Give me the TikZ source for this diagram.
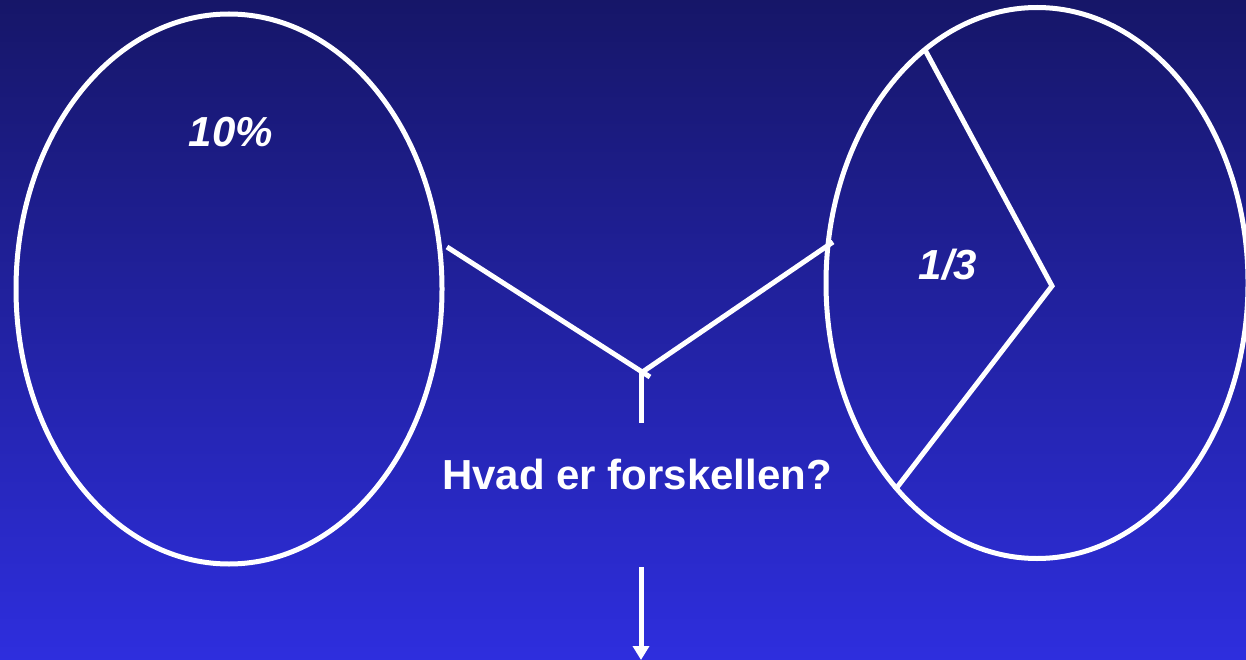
\documentclass[tikz,border=0pt]{standalone}
\usepackage{fontspec}
\setmainfont{Liberation Sans}
\usetikzlibrary{shapes.geometric,arrows.meta}
\definecolor{bgtop}{RGB}{22,22,104}
\definecolor{bgbot}{RGB}{46,46,222}
\tikzset{
  wline/.style={draw=white,line width=5pt},
  oval/.style={ellipse,draw=white,line width=5pt,inner sep=0pt},
  lbl/.style={text=white,font=\fontsize{42}{50}\selectfont\bfseries,inner sep=0pt},
}
\begin{document}
\begin{tikzpicture}[x=1pt,y=-1pt]
\useasboundingbox (0,0) rectangle (1246,660);
\shade[top color=bgtop,bottom color=bgbot] (0,0) rectangle (1246,660);
% ellipses
\node[oval,minimum width=426pt,minimum height=550pt] (L) at (229,289) {};
\node[oval,minimum width=422pt,minimum height=551pt] (R) at (1037,283) {};
% sector in right ellipse
\coordinate (st) at (924,48);
\coordinate (sv) at (1052,286);
\coordinate (sb) at (895,490);
\draw[wline,line join=miter] (st) -- (sv) -- (sb);
% Y connector
\coordinate (la) at (447,247);
\coordinate (lb) at (650,377);
\coordinate (ra) at (833,242);
\coordinate (rb) at (641,373);
\coordinate (va) at (641,372);
\coordinate (vb) at (641,423);
\draw[wline] (la) -- (lb);
\draw[wline] (ra) -- (rb);
\draw[wline] (va) -- (vb);
% texts
\node[lbl,font=\fontsize{42}{50}\selectfont\bfseries\itshape] (p10) at (231,132) {10\%};
\node[lbl,font=\fontsize{42}{50}\selectfont\bfseries\itshape] (p13) at (948,265) {1/3};
\node[lbl] (q) at (637,474) {Hvad er forskellen?};
% arrow
\coordinate (aa) at (641,567);
\coordinate (ab) at (641,660);
\draw[wline,-{Triangle[width=16pt,length=14pt]}] (aa) -- (ab);
\end{tikzpicture}
\end{document}
